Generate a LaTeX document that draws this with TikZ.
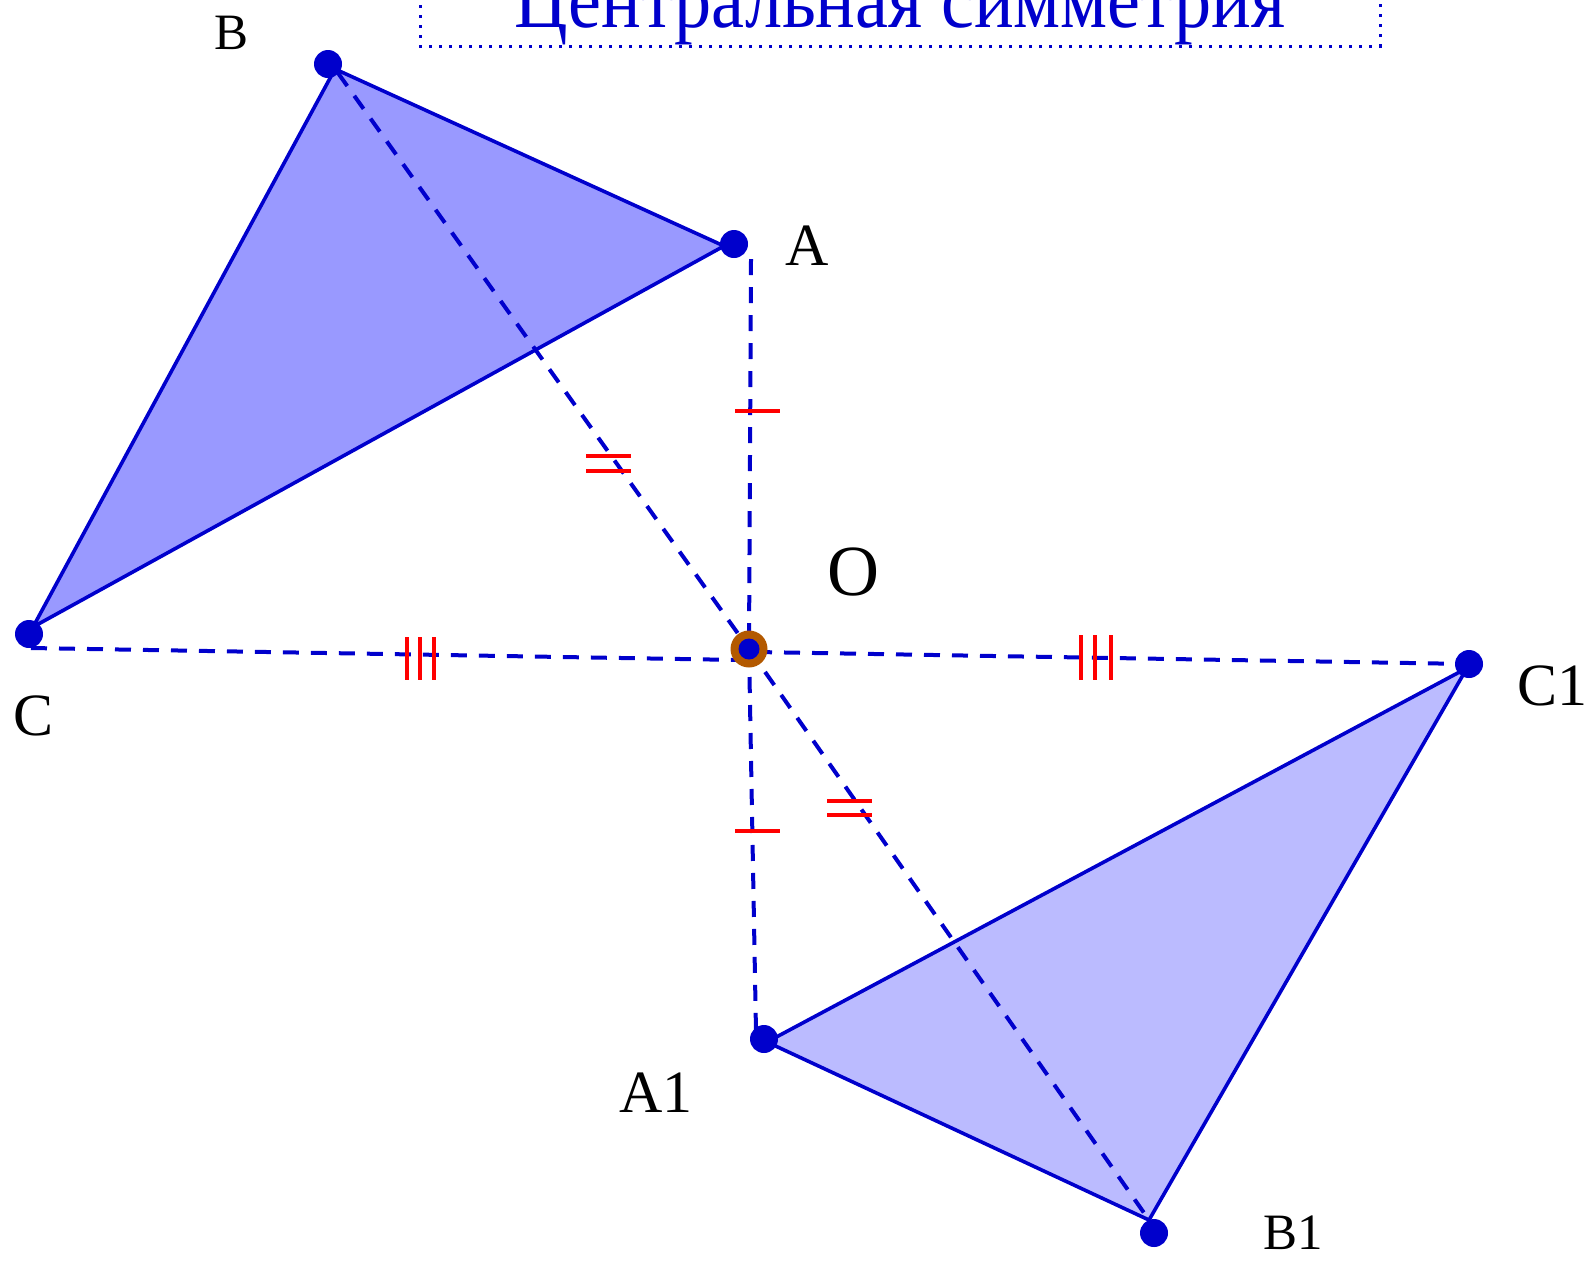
\documentclass[tikz,border=0pt]{standalone}
\usepackage{fontspec}
\setmainfont{Liberation Serif}
\definecolor{cblue}{RGB}{0,0,204}
\definecolor{fillA}{RGB}{153,153,255}
\definecolor{fillB}{RGB}{187,187,255}
\definecolor{obrown}{RGB}{179,89,0}
\begin{document}
\begin{tikzpicture}[x=1pt,y=-1pt,
  edge/.style={draw=cblue, line width=3.6pt, line join=round},
  dline/.style={cblue, line width=4pt, dash pattern=on 16pt off 12pt},
  dot/.style={circle, fill=cblue, inner sep=0pt, minimum size=28pt},
  tick/.style={red, line width=4pt},
  lbl/.style={inner sep=0pt, font=\fontsize{60}{62}\selectfont},
  slbl/.style={inner sep=0pt, font=\fontsize{51}{54}\selectfont}]
\useasboundingbox (0,0) rectangle (1594,1262);
% triangle vertices
\coordinate (tB) at (335,69);
\coordinate (tA) at (724,246);
\coordinate (tC) at (33,627);
\coordinate (tA1) at (767,1042);
\coordinate (tB1) at (1149,1220);
\coordinate (tC1) at (1467,668);
% triangles
\filldraw[fill=fillA, edge] (tB) -- (tA) -- (tC) -- cycle;
\filldraw[fill=fillB, edge] (tA1) -- (tB1) -- (tC1) -- cycle;
% dashed line ends
\coordinate (dA) at (751,259);
\coordinate (dA1) at (756,1032);
\coordinate (dB) at (338,73);
\coordinate (dB1) at (1149,1220);
\coordinate (dC) at (31,648);
\coordinate (dC1) at (1469,664);
\coordinate (O) at (749,649);
\coordinate (Oc1) at (756,652);
\coordinate (Oc2) at (740,660);
\draw[dline] (dA) -- (O);
\draw[dline] (O) -- (dA1);
\draw[dline] (dB) -- (O);
\draw[dline] (O) -- (dB1);
\draw[dline] (dC) -- (Oc2);
\draw[dline] (Oc1) -- (dC1);
% ticks
\draw[tick] (735,411) -- (780,411);
\draw[tick] (735,831) -- (780,831);
\draw[tick] (586,456) -- (631,456);
\draw[tick] (586,471) -- (631,471);
\draw[tick] (827,801) -- (872,801);
\draw[tick] (827,815) -- (872,815);
\foreach \x in {407,420,434} \draw[tick] (\x,637) -- (\x,680);
\foreach \x in {1081,1095,1111} \draw[tick] (\x,635) -- (\x,680);
% points
\node[dot] (B) at (328,64) {};
\node[dot] (A) at (734,244) {};
\node[dot] (C) at (29,634) {};
\node[dot] (A1) at (764,1039) {};
\node[dot] (B1) at (1154,1233) {};
\node[dot] (C1) at (1469,664) {};
\node[circle, fill=obrown, inner sep=0pt, minimum size=37pt] (Oc) at (O) {};
\node[circle, fill=cblue, inner sep=0pt, minimum size=21pt] (Od) at (O) {};
% labels
\node[slbl] (lB) at (232,33) {B};
\node[lbl] (lA) at (807,246) {A};
\node[inner sep=0pt, font=\fontsize{72}{74}\selectfont] (lO) at (853,572) {O};
\node[lbl] (lC) at (34,716) {C};
\node[lbl] (lC1) at (1552,686) {C1};
\node[lbl] (lA1) at (656,1093) {A1};
\node[slbl] (lB1) at (1293,1233) {B1};
% title
\draw[cblue, line width=3pt, dash pattern=on 3pt off 7pt] (420,-5) -- (420,46) -- (1380,46) -- (1380,-5);
\node[cblue, anchor=base, inner sep=0pt, font=\fontsize{82}{84}\selectfont] (title) at (900,27) {\scalebox{0.905}[1]{Центральная симметрия}};
\end{tikzpicture}
\end{document}
